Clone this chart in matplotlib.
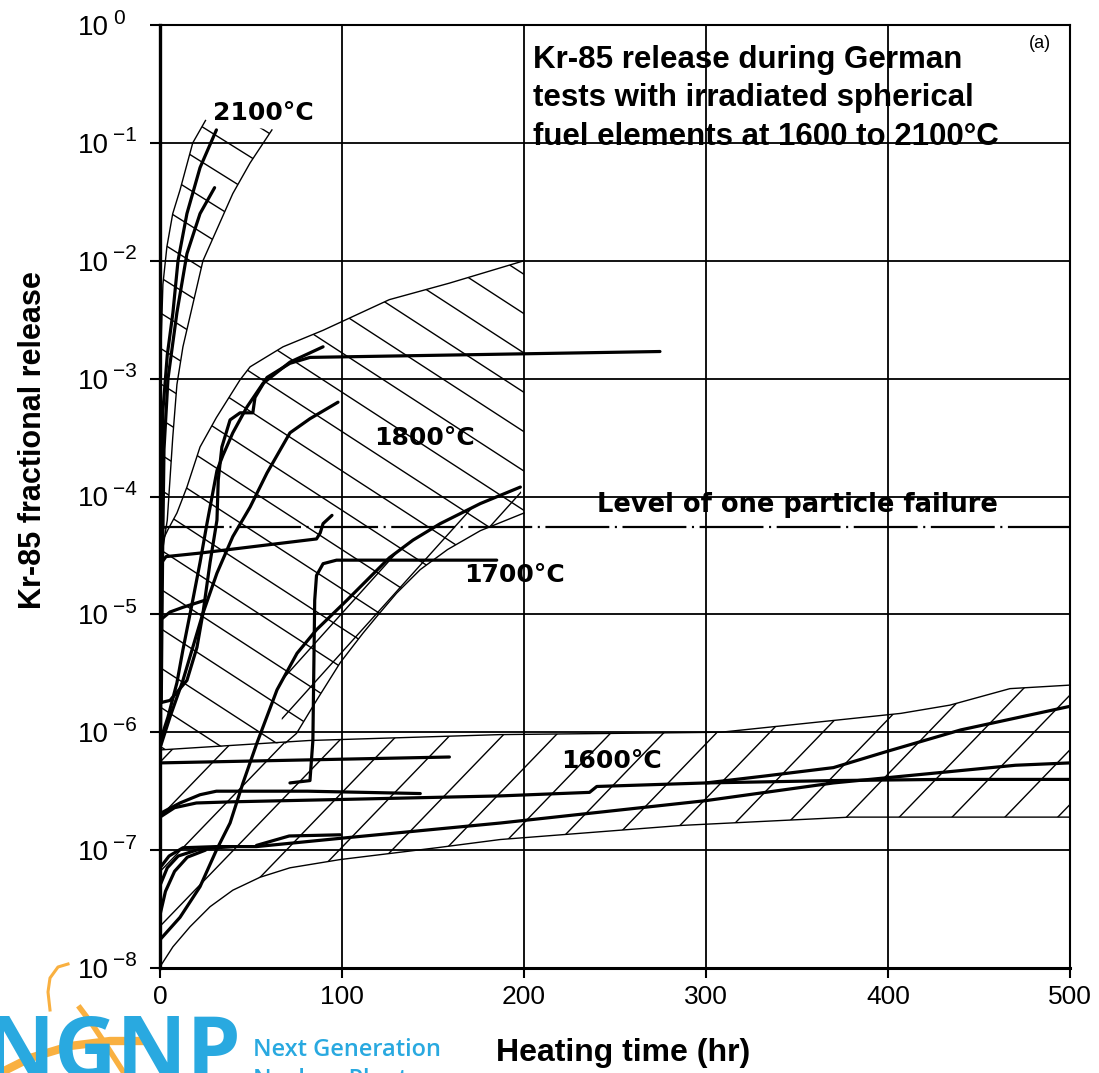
import numpy as np
import matplotlib.pyplot as plt
from matplotlib.lines import Line2D
from matplotlib.transforms import blended_transform_factory, offset_copy

plt.rcParams['font.family'] = ['Liberation Sans', 'DejaVu Sans']
plt.rcParams['lines.scale_dashes'] = False

# ---- data: heating time (hr) and log10(Kr-85 fractional release) ----
# 2100 C band
b2100_left_t = [0, 0.8, 1.6, 3.8, 7, 11, 18, 25]
b2100_left_lg = [-3.2, -2.6, -2.2, -1.88, -1.6, -1.4, -1.0, -0.81]
b2100_right_t = [61.5, 49.5, 40, 23.6, 12.6, 9.3, 7, 4, 1.5, 0]
b2100_right_lg = [-0.89, -1.17, -1.43, -2.0, -2.73, -3.05, -3.5, -4.2, -4.45, -4.6]
c2100a_t = [0.3, 0.6, 1.0, 1.6, 4.0, 7.1, 9.9, 14.8, 22, 31]
c2100a_lg = [-6.1, -5.0, -4.0, -3.27, -2.8, -2.44, -2.0, -1.6, -1.21, -0.89]
c2100b_t = [0.7, 1.0, 1.5, 2.2, 4.4, 9.3, 14.8, 22, 30]
c2100b_lg = [-5.75, -5.2, -4.4, -3.6, -3.0, -2.44, -1.94, -1.6, -1.38]

# 1800 C band
b1800_up_t = [0, 1.6, 4.4, 9.3, 14.8, 22, 31, 44, 49.5, 67.6, 89.6, 126, 159, 200]
b1800_up_lg = [-4.45, -4.37, -4.28, -4.14, -3.92, -3.58, -3.33, -3.01, -2.90, -2.73, -2.59, -2.33, -2.19, -2.0]
b1800_lo_t = [200, 176, 158, 143, 130, 119, 111.5, 99, 86, 75, 69, 0]
b1800_lo_lg = [-4.14, -4.29, -4.45, -4.62, -4.82, -5.02, -5.16, -5.41, -5.73, -6.01, -6.09, -6.15]
c1800u_t = [0, 4.4, 9.3, 12.6, 18, 22, 25.8, 31.3, 34.6, 40, 47.8, 56.6, 71.4, 89.6]
c1800u_lg = [-6.08, -5.87, -5.58, -5.30, -4.88, -4.56, -4.23, -3.78, -3.65, -3.46, -3.24, -3.04, -2.86, -2.73]
c1800h_t = [0, 5.5, 14.8, 20.3, 23.6, 27.5, 31.3, 32, 34, 38.5, 44, 51, 52.2, 58.8, 71.4, 82.4, 274.7]
c1800h_lg = [-5.75, -5.73, -5.56, -5.28, -4.99, -4.56, -4.20, -3.86, -3.58, -3.35, -3.29, -3.29, -3.16, -2.99, -2.87, -2.82, -2.77]
c1800m_t = [0.5, 5.5, 12.6, 18, 23.6, 31.3, 40, 49.5, 58.8, 71.4, 82.4, 97.8]
c1800m_lg = [-6.11, -5.87, -5.56, -5.28, -4.99, -4.65, -4.34, -4.09, -3.80, -3.46, -3.34, -3.20]
c1800k_t = [0, 3.3, 22, 86, 88, 89.6, 94.5]
c1800k_lg = [-4.58, -4.51, -4.48, -4.36, -4.31, -4.23, -4.16]
c1800n_t = [0, 5.5, 12.6, 24.7]
c1800n_lg = [-5.05, -4.98, -4.94, -4.88]
cs_t = [0, 11, 22, 31, 38.5, 45.6, 53.3, 64.3, 75.3, 86, 102.7, 113.7, 126, 139, 154, 176, 198]
cs_lg = [-7.76, -7.57, -7.31, -7.0, -6.77, -6.43, -6.09, -5.64, -5.33, -5.13, -4.88, -4.71, -4.52, -4.37, -4.23, -4.06, -3.92]

# 1700 C
c1700_t = [71.4, 82.4, 84, 85, 86, 89.6, 97, 185]
c1700_lg = [-6.43, -6.41, -6.07, -4.88, -4.67, -4.57, -4.54, -4.54]

# level of one particle failure
level_lg = -4.26

# 1600 C band
b1600_up_t = [0, 82, 187, 308, 370, 407, 434, 467, 500]
b1600_up_lg = [-6.15, -6.07, -6.02, -6.0, -5.9, -5.84, -5.77, -5.63, -5.6]
b1600_lo_t = [0, 7.1, 16.5, 27.5, 40, 55, 71.4, 99, 152, 187, 287, 379, 500]
b1600_lo_lg = [-7.99, -7.82, -7.65, -7.48, -7.34, -7.23, -7.15, -7.08, -6.98, -6.91, -6.79, -6.72, -6.72]
p1_t, p1_lg = [0, 159], [-6.26, -6.21]
p2_t = [0, 11, 22, 31, 81, 143]
p2_lg = [-6.69, -6.60, -6.53, -6.50, -6.50, -6.52]
p3_t = [0, 8, 20, 40, 100, 187, 236, 240, 300, 370, 430, 500]
p3_lg = [-6.72, -6.64, -6.60, -6.59, -6.57, -6.54, -6.51, -6.46, -6.43, -6.41, -6.40, -6.40]
p4_t = [300, 333, 370, 400, 440, 470, 500]
p4_lg = [-6.43, -6.37, -6.30, -6.16, -5.98, -5.88, -5.78]
p5_t = [0, 5, 12.6, 31, 53, 99, 187, 300, 370, 470, 500]
p5_lg = [-7.15, -7.05, -6.98, -6.97, -6.97, -6.90, -6.77, -6.58, -6.43, -6.28, -6.26]
p6_t, p6_lg = [53, 71, 99], [-6.96, -6.88, -6.87]
p7_t, p7_lg = [0, 4, 10, 22, 40], [-7.3, -7.15, -7.05, -6.99, -6.97]
p8_t, p8_lg = [0, 3, 8, 15, 25], [-7.55, -7.35, -7.18, -7.06, -7.0]

x_ticks = [0, 100, 200, 300, 400, 500]
y_exps = list(range(-8, 1))


def v(lg):
    return 10.0 ** np.asarray(lg, dtype=float)


W, H = 1099, 1073
fig = plt.figure(figsize=(W / 100, H / 100), dpi=100)
ax = fig.add_axes([160 / W, 1 - 968 / H, 910 / W, 943 / H])
ax.set_yscale('log')
AX_W, AX_H = 910.0, 943.0

THICK, THIN = 2.3, 1.0


def band(t, lg):
    p, = ax.fill(t, v(lg), facecolor='none', edgecolor='none')
    return p


def hatch(patch, angle, spacing, lw=1.0):
    a = np.radians(angle)
    u = np.array([np.cos(a), np.sin(a)])
    n = np.array([-np.sin(a), np.cos(a)])
    L = np.hypot(AX_W, AX_H)
    c = np.array([AX_W / 2, AX_H / 2])
    for d in np.arange(-L / 2, L / 2, spacing):
        p0 = c + d * n - L * u
        p1 = c + d * n + L * u
        ln, = ax.plot([p0[0] / AX_W, p1[0] / AX_W], [p0[1] / AX_H, p1[1] / AX_H],
                      transform=ax.transAxes, color='k', lw=lw, zorder=2)
        ln.set_clip_path(patch)


# bands and hatching
p2100 = band(b2100_left_t + b2100_right_t, b2100_left_lg + b2100_right_lg)
hatch(p2100, -32, 30)
p1800 = band(b1800_up_t + b1800_lo_t, b1800_up_lg + b1800_lo_lg)
hatch(p1800, -33, 33)
i0 = 7
p1700 = band(cs_t[i0:] + b1800_lo_t[:-1], cs_lg[i0:] + b1800_lo_lg[:-1])
hatch(p1700, 48, 26)
p1600 = band(b1600_up_t + b1600_lo_t[::-1], b1600_up_lg + b1600_lo_lg[::-1])
hatch(p1600, 46, 38)

# thin band boundaries
for t, lg in [(b2100_left_t, b2100_left_lg), (b2100_right_t, b2100_right_lg),
              (b1800_up_t, b1800_up_lg), (b1800_lo_t[:-1], b1800_lo_lg[:-1]),
              (b1600_up_t, b1600_up_lg), (b1600_lo_t, b1600_lo_lg)]:
    ax.plot(t, v(lg), color='k', lw=THIN, zorder=3)

# thick test curves
for t, lg in [(c2100a_t, c2100a_lg), (c2100b_t, c2100b_lg),
              (c1800u_t, c1800u_lg), (c1800h_t, c1800h_lg), (c1800m_t, c1800m_lg),
              (c1800k_t, c1800k_lg), (c1800n_t, c1800n_lg), (cs_t, cs_lg),
              (c1700_t, c1700_lg),
              (p1_t, p1_lg), (p2_t, p2_lg), (p3_t, p3_lg), (p4_t, p4_lg),
              (p5_t, p5_lg), (p6_t, p6_lg), (p7_t, p7_lg), (p8_t, p8_lg)]:
    ax.plot(t, v(lg), color='k', lw=THICK, zorder=4, solid_capstyle='round')

ax.axhline(10 ** level_lg, color='k', lw=1.6, dashes=(46, 4, 1.5, 4), zorder=3)

# labels in the plot
lab = dict(fontsize=18, fontweight='bold', family='DejaVu Sans', ha='center', va='center', zorder=6)
ax.text(56.6, 10 ** -0.75, '2100°C', **lab)
ax.text(145.6, 10 ** -3.50, '1800°C', **lab)
ax.text(195, 10 ** -4.67, '1700°C', **lab)
ax.text(248, 10 ** -6.24, '1600°C', **lab)
lab['fontsize'] = 18.5
ax.text(350, 10 ** -4.07, 'Level of one particle failure', **lab)
ax.text(205, 10 ** -0.17, 'Kr-85 release during German\ntests with irradiated spherical\nfuel elements at 1600 to 2100°C',
        fontsize=22.5, fontweight='bold', ha='left', va='top', linespacing=1.36, zorder=6)
ax.text(483.5, 10 ** -0.155, '(a)', fontsize=13, ha='center', va='center')

# axes styling
ax.set_xlim(0, 500)
ax.set_ylim(1e-8, 1)
ax.set_xticks(x_ticks)
ax.set_yticks([10.0 ** k for k in y_exps])
ax.set_yticklabels([])
ax.minorticks_off()
ax.grid(True, color='k', lw=1.3)
ax.set_axisbelow(True)
ax.tick_params(axis='both', direction='out', length=7, width=1.5)
ax.tick_params(axis='x', pad=5, labelsize=19)
ax.spines['left'].set_linewidth(2.4)
ax.spines['bottom'].set_linewidth(2.2)
ax.spines['top'].set_linewidth(1.5)
ax.spines['right'].set_linewidth(1.5)

# y tick labels drawn as "10" plus a large superscript, left aligned like the original
tr = blended_transform_factory(fig.transFigure, ax.transData)
tr_sup = offset_copy(tr, fig=fig, x=0, y=9, units='dots')
for k in y_exps:
    ax.text(78 / W, 10.0 ** k, '10', transform=tr, fontsize=20, ha='left',
            va='center_baseline', clip_on=False)
    ax.text(113 / W, 10.0 ** k, ('\u2212%d' % -k) if k < 0 else '%d' % k, transform=tr_sup,
            fontsize=15, ha='left', va='center_baseline', clip_on=False)

fig.text(33 / W, 1 - 440 / H, 'Kr-85 fractional release', rotation=90, fontsize=22,
         fontweight='bold', ha='center', va='center')
fig.text(623 / W, 1 - 1053 / H, 'Heating time (hr)', fontsize=23,
         fontweight='bold', ha='center', va='center')

# NGNP logo (bottom left)
blue, orange = '#29A9E0', '#F9B040'
fig.text(-16 / W, 1 - 1078 / H, 'NGNP', fontsize=62, color=blue, family='Open Sans',
         fontweight='bold', ha='left', va='baseline')
fig.text(253 / W, 1 - 1050 / H, 'Next Generation', fontsize=17, color=blue,
         family='Open Sans', fontweight='semibold', ha='left', va='center')
fig.text(253 / W, 1 - 1080 / H, 'Nuclear Plant', fontsize=17, color=blue,
         family='Open Sans', fontweight='semibold', ha='left', va='center')


def fig_line(px, py, **kw):
    fig.add_artist(Line2D(np.asarray(px) / W, 1 - np.asarray(py) / H,
                          transform=fig.transFigure, **kw))


fig_line([68, 58, 50, 48, 50], [964, 967, 978, 992, 1010], color=orange, lw=2.2)
fig_line([80, 92, 108, 124], [1008, 1024, 1048, 1073], color=orange, lw=4)
fig_line([0, 30, 70, 110, 140], [1073, 1058, 1046, 1041, 1041], color=orange, lw=6)

fig.savefig('out.png', dpi=100)
